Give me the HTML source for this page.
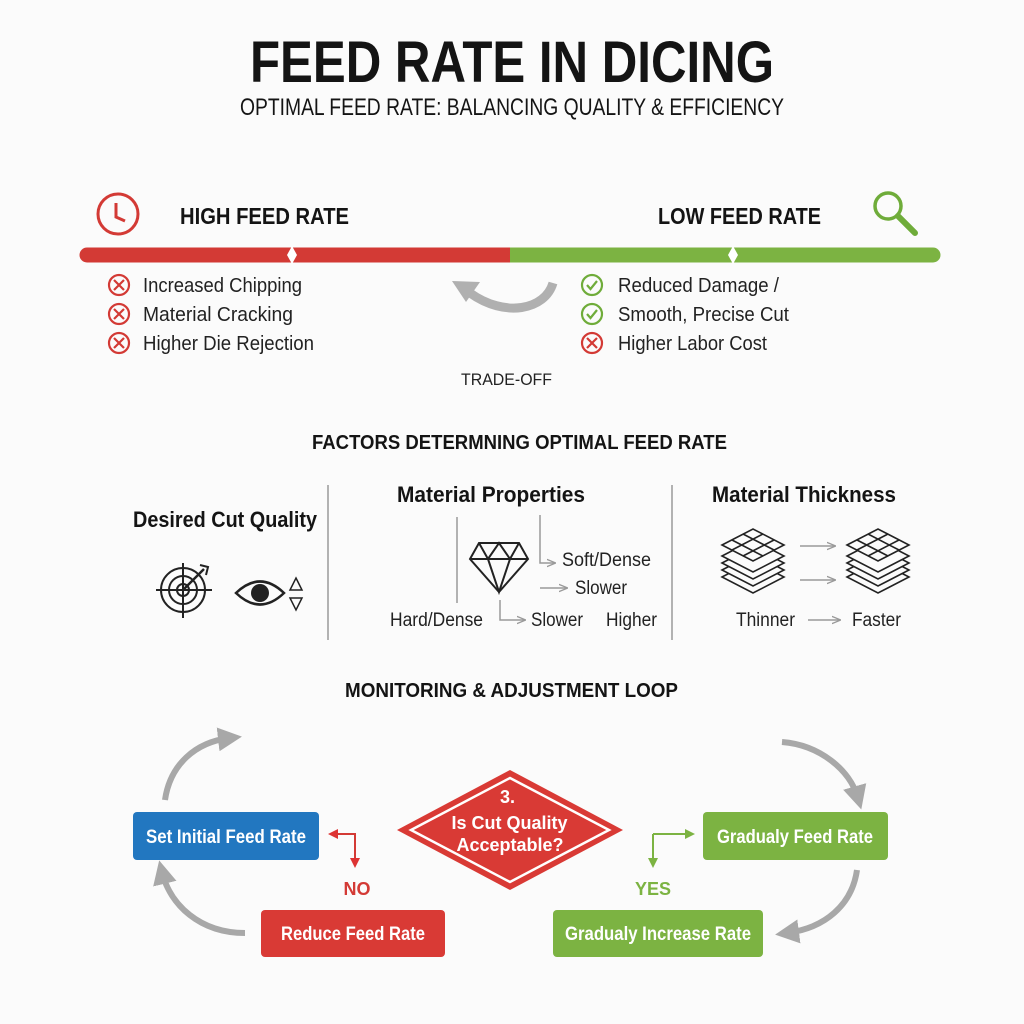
<!DOCTYPE html>
<html><head><meta charset="utf-8"><style>
html,body{margin:0;padding:0;background:#fbfbfb;}
svg{display:block;}
text{font-family:"Liberation Sans",sans-serif;}
</style></head><body>
<svg width="1024" height="1024" viewBox="0 0 1024 1024" xmlns="http://www.w3.org/2000/svg">
<defs>
<marker id="ag" viewBox="0 0 10 10" refX="5" refY="5" markerWidth="4" markerHeight="4" orient="auto"><path d="M0,0 L10,5 L0,10 z" fill="#a8a8a8"/></marker>
<marker id="sa" viewBox="0 0 10 10" refX="9" refY="5" markerWidth="6" markerHeight="6" orient="auto"><path d="M0,1 L10,5 L0,9" fill="none" stroke="#999" stroke-width="1.5"/></marker>
<marker id="ar" viewBox="0 0 10 10" refX="8" refY="5" markerWidth="5" markerHeight="5" orient="auto"><path d="M0,0 L10,5 L0,10 z" fill="#d33"/></marker>
<marker id="agr" viewBox="0 0 10 10" refX="8" refY="5" markerWidth="5" markerHeight="5" orient="auto"><path d="M0,0 L10,5 L0,10 z" fill="#7cb342"/></marker>
<g id="x"><circle r="10" fill="none" stroke="#d33a35" stroke-width="2.2"/><path d="M-5,-5 L5,5 M5,-5 L-5,5" stroke="#d33a35" stroke-width="2.2"/></g>
<g id="c"><circle r="10" fill="none" stroke="#6fac3a" stroke-width="2.2"/><path d="M-5,0 L-1.5,4 L5,-4" fill="none" stroke="#6fac3a" stroke-width="2.2"/></g>
</defs>
<rect width="1024" height="1024" fill="#fbfbfb"/>
<text x="512" y="82" text-anchor="middle" font-size="58" font-weight="bold" fill="#141414" textLength="524" lengthAdjust="spacingAndGlyphs">FEED RATE IN DICING</text>
<text x="512" y="115" text-anchor="middle" font-size="24" fill="#141414" textLength="544" lengthAdjust="spacingAndGlyphs">OPTIMAL FEED RATE: BALANCING QUALITY &amp; EFFICIENCY</text>

<circle cx="118" cy="214" r="20" fill="none" stroke="#d33a35" stroke-width="3"/>
<path d="M116,203 L116,217 L125,221" fill="none" stroke="#d33a35" stroke-width="3"/>
<text x="180" y="224" font-size="23" font-weight="bold" fill="#141414" textLength="169" lengthAdjust="spacingAndGlyphs">HIGH FEED RATE</text>
<text x="658" y="224" font-size="23" font-weight="bold" fill="#141414" textLength="163" lengthAdjust="spacingAndGlyphs">LOW FEED RATE</text>
<circle cx="888" cy="206" r="13" fill="none" stroke="#6fac3a" stroke-width="3.5"/>
<path d="M898,216 L915,233" stroke="#6fac3a" stroke-width="6" stroke-linecap="round"/>

<path d="M87,255 L510,255" stroke="#d33a35" stroke-width="15" stroke-linecap="round"/>
<path d="M510,255 L933,255" stroke="#7cb342" stroke-width="15" stroke-linecap="round"/>
<rect x="505" y="247.5" width="10" height="15" fill="#7cb342"/>
<rect x="500" y="247.5" width="10" height="15" fill="#d33a35"/>
<path d="M292,246 L297,255 L292,264 L287,255 z" fill="#fff"/>
<path d="M733,246 L738,255 L733,264 L728,255 z" fill="#fff"/>

<use href="#x" x="119" y="285"/><use href="#x" x="119" y="314"/><use href="#x" x="119" y="343"/>
<g font-size="20" fill="#222">
<text x="143" y="292" textLength="159" lengthAdjust="spacingAndGlyphs">Increased Chipping</text>
<text x="143" y="321" textLength="150" lengthAdjust="spacingAndGlyphs">Material Cracking</text>
<text x="143" y="350" textLength="171" lengthAdjust="spacingAndGlyphs">Higher Die Rejection</text>
</g>
<use href="#c" x="592" y="285"/><use href="#c" x="592" y="314"/><use href="#x" x="592" y="343"/>
<g font-size="20" fill="#222">
<text x="618" y="292" textLength="161" lengthAdjust="spacingAndGlyphs">Reduced Damage /</text>
<text x="618" y="321" textLength="171" lengthAdjust="spacingAndGlyphs">Smooth, Precise Cut</text>
<text x="618" y="350" textLength="149" lengthAdjust="spacingAndGlyphs">Higher Labor Cost</text>
</g>
<path d="M553,283 C545,310 505,318 470,293" fill="none" stroke="#b0b0b0" stroke-width="9"/>
<path d="M452,281 L480,282 L466,302 z" fill="#b0b0b0"/>
<text x="461" y="385" font-size="17" fill="#222" textLength="91" lengthAdjust="spacingAndGlyphs">TRADE-OFF</text>

<text x="312" y="449" font-size="20" font-weight="bold" fill="#141414" textLength="415" lengthAdjust="spacingAndGlyphs">FACTORS DETERMNING OPTIMAL FEED RATE</text>
<path d="M328,485 L328,640 M672,485 L672,640" stroke="#999" stroke-width="1.5"/>
<text x="133" y="527" font-size="22" font-weight="bold" fill="#141414" textLength="184" lengthAdjust="spacingAndGlyphs">Desired Cut Quality</text>
<text x="397" y="502" font-size="22" font-weight="bold" fill="#141414" textLength="188" lengthAdjust="spacingAndGlyphs">Material Properties</text>
<text x="712" y="502" font-size="22" font-weight="bold" fill="#141414" textLength="184" lengthAdjust="spacingAndGlyphs">Material Thickness</text>

<g fill="none" stroke="#222" stroke-width="2">
<circle cx="183" cy="590" r="22"/><circle cx="183" cy="590" r="14"/><circle cx="183" cy="590" r="6"/>
<path d="M156,590 L212,590 M183,563 L183,618"/>
<path d="M183,590 L204,569" stroke-width="2.5"/>
<path d="M200,565 L208,567 L206,575" />
</g>
<path d="M236,593 Q260,570 284,593 Q260,616 236,593 z" fill="none" stroke="#222" stroke-width="2.5"/>
<circle cx="260" cy="593" r="9" fill="#222"/>
<path d="M296,578 L302,590 L290,590 z M290,598 L302,598 L296,610 z" fill="none" stroke="#222" stroke-width="1.5"/>

<g fill="none" stroke="#222" stroke-width="2">
<path d="M479,543 L519,543 L528,559 L499,592 L470,559 z"/>
<path d="M470,559 L528,559 M479,543 L488,559 L499,543 L510,559 L519,543 M488,559 L499,592 L510,559"/>
</g>
<g fill="none" stroke="#999" stroke-width="1.5">
<path d="M457,517 L457,603"/>
<path d="M540,515 L540,563 L555,563" marker-end="url(#sa)"/>
<path d="M540,588 L567,588" marker-end="url(#sa)"/>
<path d="M500,600 L500,620 L525,620" marker-end="url(#sa)"/>
<path d="M800,546 L835,546" marker-end="url(#sa)"/>
<path d="M800,580 L835,580" marker-end="url(#sa)"/>
<path d="M808,620 L840,620" marker-end="url(#sa)"/>
</g>
<g font-size="19" fill="#222">
<text x="562" y="566" textLength="89" lengthAdjust="spacingAndGlyphs">Soft/Dense</text>
<text x="575" y="594" textLength="52" lengthAdjust="spacingAndGlyphs">Slower</text>
<text x="390" y="626" textLength="93" lengthAdjust="spacingAndGlyphs">Hard/Dense</text>
<text x="531" y="626" textLength="52" lengthAdjust="spacingAndGlyphs">Slower</text>
<text x="606" y="626" textLength="51" lengthAdjust="spacingAndGlyphs">Higher</text>
<text x="736" y="626" textLength="59" lengthAdjust="spacingAndGlyphs">Thinner</text>
<text x="852" y="626" textLength="49" lengthAdjust="spacingAndGlyphs">Faster</text>
</g>
<g fill="#fbfbfb" stroke="#222" stroke-width="1.6">
<g id="st">
<path d="M722,577 L753,561 L784,577 L753,593 z"/>
<path d="M722,570 L753,554 L784,570 L753,586 z"/>
<path d="M722,563 L753,547 L784,563 L753,579 z"/>
<path d="M722,556 L753,540 L784,556 L753,572 z"/>
<path d="M722,545 L753,529 L784,545 L753,561 z"/>
<path d="M732,540 L763,556 M743,534 L774,550 M743,556 L774,540 M732,550 L763,534"/>
</g>
<use href="#st" x="125"/>
</g>

<text x="345" y="697" font-size="20" font-weight="bold" fill="#141414" textLength="333" lengthAdjust="spacingAndGlyphs">MONITORING &amp; ADJUSTMENT LOOP</text>

<g fill="none" stroke="#a8a8a8" stroke-width="6" marker-end="url(#ag)">
<path d="M165,800 C170,765 195,742 230,738"/>
<path d="M245,933 C200,933 170,905 162,872"/>
<path d="M782,742 C820,745 850,770 858,798"/>
<path d="M857,870 C852,905 825,928 787,933"/>
</g>

<rect x="133" y="812" width="186" height="48" rx="4" fill="#2277c0"/>
<text x="226" y="843" text-anchor="middle" font-size="19" font-weight="bold" fill="#fff" textLength="160" lengthAdjust="spacingAndGlyphs">Set Initial Feed Rate</text>
<rect x="261" y="910" width="184" height="47" rx="4" fill="#d93a35"/>
<text x="353" y="940" text-anchor="middle" font-size="19" font-weight="bold" fill="#fff" textLength="144" lengthAdjust="spacingAndGlyphs">Reduce Feed Rate</text>
<rect x="703" y="812" width="185" height="48" rx="4" fill="#7cb342"/>
<text x="795" y="843" text-anchor="middle" font-size="19" font-weight="bold" fill="#fff" textLength="156" lengthAdjust="spacingAndGlyphs">Gradualy Feed Rate</text>
<rect x="553" y="910" width="210" height="47" rx="4" fill="#7cb342"/>
<text x="658" y="940" text-anchor="middle" font-size="19" font-weight="bold" fill="#fff" textLength="186" lengthAdjust="spacingAndGlyphs">Gradualy Increase Rate</text>

<path d="M510,770 L623,830 L510,890 L397,830 z" fill="#d93a35"/>
<path d="M510,778 L609,830 L510,882 L411,830 z" fill="none" stroke="#fff" stroke-width="2.5"/>
<text text-anchor="middle" font-size="18" font-weight="bold" fill="#fff">
<tspan x="510" y="803">3.</tspan>
<tspan x="512" y="829">Is Cut Quality</tspan>
<tspan x="510" y="851">Acceptable?</tspan>
</text>

<path d="M340,834 L355,834 L355,866" fill="none" stroke="#d33a35" stroke-width="2" marker-end="url(#ar)"/>
<path d="M345,834 L330,834" fill="none" stroke="#d33a35" stroke-width="2" marker-end="url(#ar)"/>
<text x="357" y="895" text-anchor="middle" font-size="18" font-weight="bold" fill="#d33a35">NO</text>
<path d="M653,834 L653,866" fill="none" stroke="#7cb342" stroke-width="2" marker-end="url(#agr)"/>
<path d="M653,834 L693,834" fill="none" stroke="#7cb342" stroke-width="2" marker-end="url(#agr)"/>
<text x="653" y="895" text-anchor="middle" font-size="18" font-weight="bold" fill="#7cb342">YES</text>
</svg>
</body></html>
